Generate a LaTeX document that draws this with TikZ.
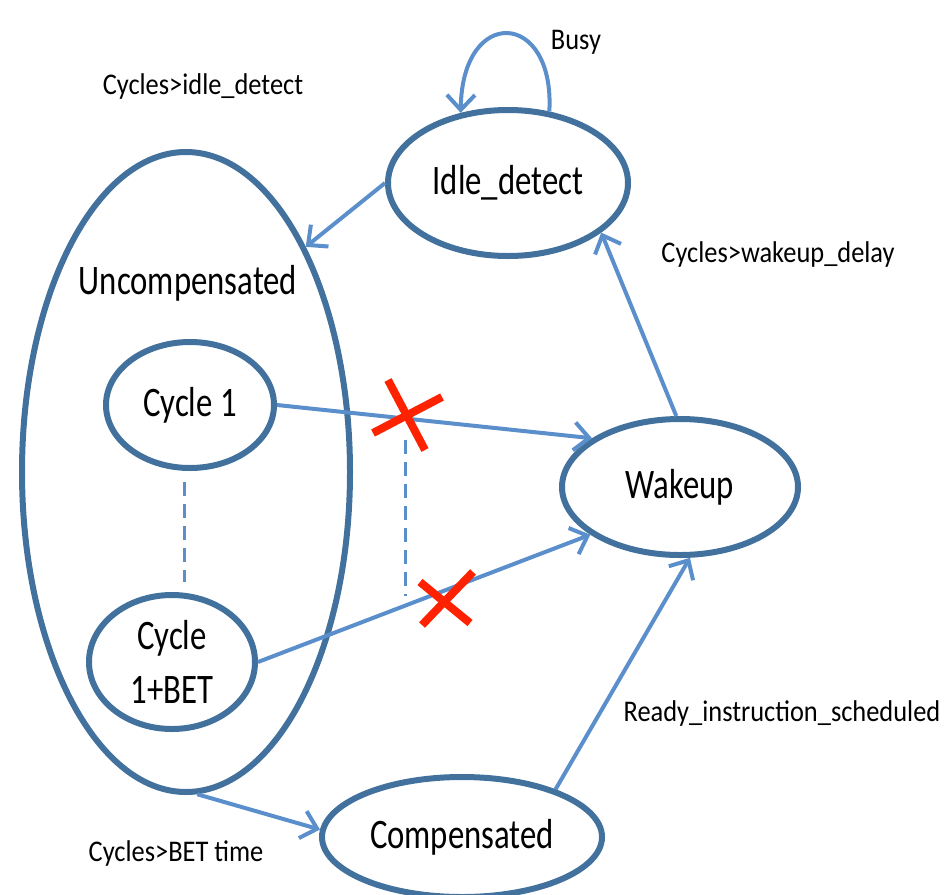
\documentclass[tikz,border=0pt]{standalone}
\usepackage{fontspec}
\setmainfont{Carlito}
\newfontfamily\mainfnt[FakeStretch=0.78]{Carlito}
\newfontfamily\lblfnt[FakeStretch=0.88]{Carlito}
\usetikzlibrary{shapes.geometric,arrows.meta}
\definecolor{ebord}{HTML}{41719C}
\definecolor{arr}{HTML}{5B8FCC}
\definecolor{xred}{HTML}{FF2200}
\tikzset{
  state/.style={ellipse,draw=ebord,line width=3pt,inner sep=0pt,font=\mainfnt\fontsize{21}{24}\selectfont},
  conn/.style={draw=arr,line width=2pt,-{Straight Barb[length=7.5pt,width=14pt,line width=2pt]}},
  lbl/.style={font=\lblfnt\fontsize{15}{17}\selectfont,inner sep=0pt},
  dashln/.style={draw=arr,line width=1.5pt,dash pattern=on 7pt off 4pt},
  redx/.style={draw=xred,line width=4pt}
}
\begin{document}
\begin{tikzpicture}[x=0.5pt,y=-0.5pt]
\useasboundingbox (0,0) rectangle (946,894);
% states
\node[state,minimum width=164pt,minimum height=320pt] (unc) at (186,472) {};
\node[font=\mainfnt\fontsize{21}{24}\selectfont] (unctext) at (188,283) {Uncompensated};
\node[state,minimum width=84pt,minimum height=63pt] (c1) at (190,405) {Cycle 1};
\node[state,minimum width=83pt,minimum height=67pt,align=center] (cb) at (172,662) {Cycle\\[3pt]1+BET};
\node[state,minimum width=120pt,minimum height=73pt] (idle) at (508,183) {Idle\_detect};
\node[state,minimum width=118pt,minimum height=68pt] (wake) at (680,487) {Wakeup};
\node[state,minimum width=140pt,minimum height=60pt] (comp) at (462,837) {Compensated};
% labels
\node[lbl] (l1) at (203,87) {Cycles>idle\_detect};
\node[lbl] (l2) at (778,254) {Cycles>wakeup\_delay};
\node[lbl] (l3) at (782,713) {Ready\_instruction\_scheduled};
\node[lbl] (l4) at (176,853) {Cycles>BET time};
\node[lbl] (l5) at (576,42) {Busy};
% connectors
\draw[conn] (idle.180) -- (unc.62);
\draw[conn] (wake.93) -- (idle.332);
\draw[conn] (c1.east) -- (wake.151);
\draw[conn] (cb.east) -- (wake.208);
\draw[conn] (unc.272.5) -- (comp.177);
\draw[conn] (comp.27) -- (wake.278);
\draw[conn] (idle.60) .. controls (555,10) and (462,5) .. (idle.124);
% dashed lines
\coordinate (d1a) at (184,482);
\coordinate (d1b) at (184,582);
\coordinate (d2a) at (405,440);
\coordinate (d2b) at (405,596);
\draw[dashln] (d1a) -- (d1b);
\draw[dashln] (d2a) -- (d2b);
% red crosses
\coordinate (x1a) at (388,380);
\coordinate (x1b) at (425,450);
\coordinate (x1c) at (373,433);
\coordinate (x1d) at (442,397);
\coordinate (x2a) at (420,582);
\coordinate (x2b) at (470,623);
\coordinate (x2c) at (422,625);
\coordinate (x2d) at (473,572);
\draw[redx] (x1a) -- (x1b);
\draw[redx] (x1c) -- (x1d);
\draw[redx] (x2a) -- (x2b);
\draw[redx] (x2c) -- (x2d);
\end{tikzpicture}
\end{document}
